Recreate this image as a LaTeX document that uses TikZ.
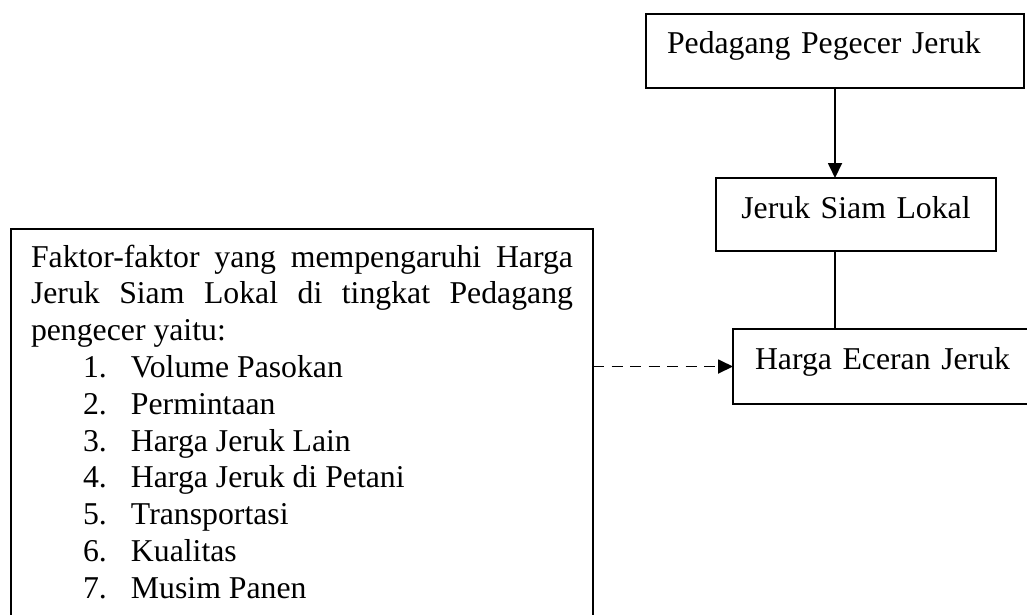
\documentclass[tikz,border=0pt]{standalone}
\usepackage{fontspec}
\setmainfont{Liberation Serif}
\usetikzlibrary{arrows.meta}
\newcommand{\boxfont}{\fontsize{31.75}{36.8}\selectfont\tolerance=9999\hyphenpenalty=10000}
\newcommand{\faktoritem}[2]{\par\hspace*{52pt}\makebox[48pt][l]{#1}#2}

\begin{document}
\begin{tikzpicture}[x=1pt,y=-1pt,>={Triangle[length=15pt,width=14pt]},line width=1.8pt,
    main box/.style={draw,rectangle,outer sep=0pt,inner ysep=0pt,font=\boxfont},
    dash line/.style={dash pattern=on 11pt off 7.5pt}]
   \clip (0,0) rectangle (1027,614);
   \node[main box,anchor=north west,text width=336pt,inner xsep=21pt,align=left,text height=39pt,text depth=35pt] (pedagang) at (646,14) {Pedagang Pegecer Jeruk};
   \node[main box,anchor=north west,text width=260pt,inner xsep=10pt,align=center,text height=40pt,text depth=33pt] (siam) at (716,178) {Jeruk Siam Lokal};
   \node[main box,anchor=north west,text width=300pt,inner xsep=22pt,align=left,text height=40pt,text depth=35pt] (eceran) at (733,329) {Harga Eceran Jeruk};
   %left box runs past the bottom edge
   \node[main box,anchor=north west,text width=542pt,inner xsep=20pt,align=justify,text height=38pt,text depth=420pt] (faktor) at (11,229)
     {Faktor-faktor yang mempengaruhi Harga Jeruk Siam Lokal di tingkat Pedagang pengecer yaitu:
      \faktoritem{1.}{Volume Pasokan}
      \faktoritem{2.}{Permintaan}
      \faktoritem{3.}{Harga Jeruk Lain}
      \faktoritem{4.}{Harga Jeruk di Petani}
      \faktoritem{5.}{Transportasi}
      \faktoritem{6.}{Kualitas}
      \faktoritem{7.}{Musim Panen}};
   \draw[->] (pedagang.south) -- (pedagang.south |- siam.north);
   \draw (pedagang.south |- siam.south) -- (pedagang.south |- eceran.north);
   \draw[->,dash line] (faktor.east |- eceran.west) -- (eceran.west);
\end{tikzpicture}
\end{document}
